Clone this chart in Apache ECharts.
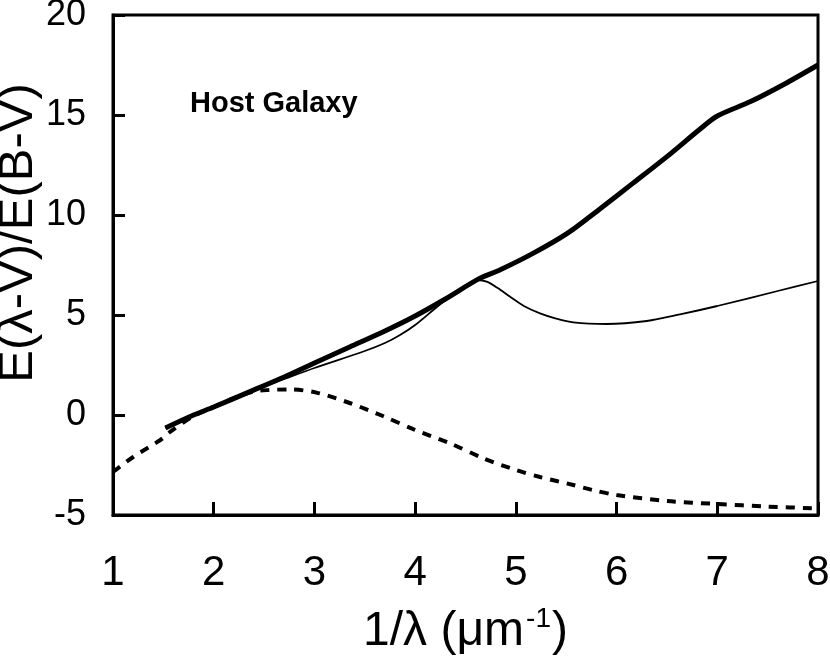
<!DOCTYPE html>
<html>
<head>
<meta charset="utf-8">
<script src="https://cdn.jsdelivr.net/npm/echarts@6/dist/echarts.min.js"></script>
<style>
  html, body { margin: 0; padding: 0; background: #fff; }
  #chart { width: 830px; height: 664px; }
</style>
</head>
<body>
<div id="chart"></div>
<script>
// 1/lambda (um^-1) vs E(lambda-V)/E(B-V)
var thickX = [1.52, 1.8, 2.0, 2.36, 2.7, 3.0, 3.35, 3.7, 4.0, 4.3, 4.64, 4.84, 5.17, 5.51, 5.84, 6.16, 6.5, 6.83, 7.0, 7.33, 7.65, 8.0];
var thickY = [-0.65, 0.0, 0.4, 1.17, 1.9, 2.6, 3.4, 4.2, 4.95, 5.8, 6.83, 7.25, 8.08, 9.08, 10.33, 11.58, 12.92, 14.3, 14.95, 15.67, 16.5, 17.5];

var thinX = [1.52, 2.0, 2.36, 2.7, 3.0, 3.5, 3.7, 3.85, 4.0, 4.18, 4.35, 4.48, 4.62, 4.71, 4.82, 4.94, 5.08, 5.24, 5.4, 5.57, 5.9, 6.3, 6.63, 7.0, 7.6, 8.0];
var thinY = [-0.65, 0.4, 1.17, 1.8, 2.35, 3.2, 3.6, 4.0, 4.5, 5.25, 5.95, 6.42, 6.75, 6.67, 6.35, 5.92, 5.45, 5.08, 4.82, 4.63, 4.55, 4.7, 5.03, 5.45, 6.2, 6.7];

var dashX = [1.0, 1.2, 1.47, 1.57, 1.8, 2.0, 2.2, 2.39, 2.55, 2.75, 3.02, 3.35, 3.68, 4.0, 4.35, 4.68, 5.0, 5.24, 5.57, 5.76, 6.0, 6.5, 7.0, 7.5, 8.0];
var dashY = [-2.85, -2.1, -1.25, -0.83, -0.05, 0.4, 0.85, 1.17, 1.25, 1.28, 1.12, 0.6, -0.05, -0.75, -1.42, -2.17, -2.75, -3.1, -3.5, -3.75, -4.0, -4.3, -4.45, -4.58, -4.67];

var xTicks = [1, 2, 3, 4, 5, 6, 7, 8];
var yTicks = [-5, 0, 5, 10, 15, 20];

function pairs(xs, ys) {
    return xs.map(function (x, i) { return [x, ys[i]]; });
}

var chart = echarts.init(document.getElementById('chart'));
var font = 'Liberation Sans, Arial, Helvetica, sans-serif';

var option = {
    animation: false,
    grid: {
        left: 113, top: 15, right: 12, bottom: 149,
        outerBoundsMode: 'none',
        containLabel: false,
        show: true, borderColor: '#000', borderWidth: 3
    },
    xAxis: {
        type: 'value',
        min: xTicks[0],
        max: xTicks[xTicks.length - 1],
        interval: 1,
        axisLine: { show: true, onZero: false, lineStyle: { color: '#000', width: 3 } },
        axisTick: { show: true, inside: true, length: 13, lineStyle: { color: '#000', width: 3 } },
        splitLine: { show: false },
        axisLabel: { color: '#000', fontSize: 42, fontFamily: font, margin: 37 },
        name: '{a|1/λ (μm}{s|-1}{a|)}',
        nameLocation: 'middle',
        nameGap: 90,
        nameMoveOverlap: false,
        nameTextStyle: {
            rich: {
                a: { fontSize: 48, fontFamily: font, color: '#000', lineHeight: 54 },
                s: { fontSize: 28, fontFamily: font, color: '#000', verticalAlign: 'top', padding: [0, 1, 0, 2] }
            }
        }
    },
    yAxis: {
        type: 'value',
        min: yTicks[0],
        max: yTicks[yTicks.length - 1],
        interval: 5,
        axisLine: { show: true, lineStyle: { color: '#000', width: 3 } },
        axisTick: { show: true, inside: true, length: 12, lineStyle: { color: '#000', width: 3 } },
        splitLine: { show: false },
        axisLabel: { color: '#000', fontSize: 36, fontFamily: font, margin: 27 },
        name: 'E(λ-V)/E(B-V)',
        nameLocation: 'middle',
        nameGap: 70,
        nameMoveOverlap: false,
        nameTextStyle: { color: '#000', fontSize: 49, fontFamily: font, padding: [0, 0, 0, 64] }
    },
    graphic: [{
        type: 'text',
        left: 190,
        top: 89,
        style: { text: 'Host Galaxy', font: 'bold 29px Liberation Sans, Arial, sans-serif', fill: '#000' }
    }],
    series: [
        {
            name: 'dashed',
            type: 'line',
            data: pairs(dashX, dashY),
            symbol: 'none',
            smooth: 0.3,
            lineStyle: { color: '#000', width: 4, type: [9, 8] }
        },
        {
            name: 'thin',
            type: 'line',
            data: pairs(thinX, thinY),
            symbol: 'none',
            smooth: 0.3,
            lineStyle: { color: '#000', width: 1.8 }
        },
        {
            name: 'thick',
            type: 'line',
            data: pairs(thickX, thickY),
            symbol: 'none',
            smooth: 0.3,
            lineStyle: { color: '#000', width: 5 }
        }
    ]
};

chart.setOption(option);
</script>
</body>
</html>
